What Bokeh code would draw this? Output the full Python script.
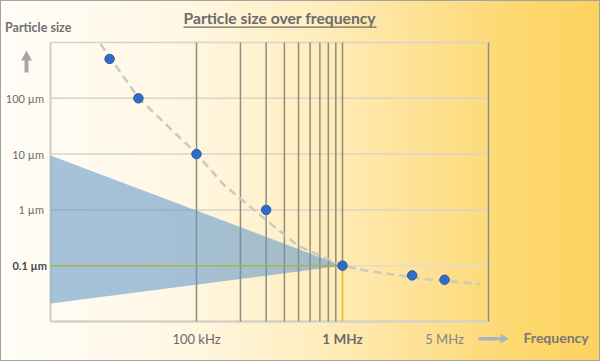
import math
from bokeh.plotting import figure
from bokeh.models import ColumnDataSource
from bokeh.core.properties import value
from bokeh.embed import file_html
from bokeh.resources import INLINE

# ---- data ----
point_freq = [25.4e3, 40e3, 100e3, 300e3, 1e6, 3e6, 5e6]
point_size = [507, 100, 10, 1, 0.1, 0.067, 0.056]

trend_freq = [22e3, 40e3, 100e3, 153e3, 274e3, 492e3, 1e6, 1.39e6, 2.38e6, 3.82e6, 8.8e6]
trend_size = [940, 102, 10.2, 2.85, 0.8, 0.23, 0.1, 0.083, 0.068, 0.057, 0.047]

band_freq = [1e4, 1e6, 1e4]
band_size = [9.4, 0.1, 0.021]

grid_freq = [1e5, 2e5, 3e5, 4e5, 5e5, 6e5, 7e5, 8e5, 9e5]
grid_size = [1, 10, 100, 1000]

freq_ticks = [1e5, 5e6]
freq_labels = ["100 kHz", "5 MHz"]
size_ticks = [1, 10, 100]
size_labels = ["1 µm", "10 µm", "100 µm"]

f_min, f_max = 1e4, 1e7
s_min, s_max = 0.01, 1000
knee_freq, knee_size = 1e6, 0.1
knee_freq_label = "1 MHz"
knee_size_label = "0.1 µm"

title_text = "Particle size over frequency"
y_title = "Particle size"
x_title = "Frequency"

# ---- layout (pixels of the 600x361 canvas) ----
W, H = 600, 361
PL, PR, PT, PB = 50, 488, 42, 321   # plot area box
lf0, lf1 = math.log10(f_min), math.log10(f_max)
ls0, ls1 = math.log10(s_min), math.log10(s_max)
kx = (lf1 - lf0) / (PR - PL)
ky = (ls1 - ls0) / (PB - PT)


def fx(px):
    return 10 ** (lf0 + (px - PL) * kx)


def sy(py):
    return 10 ** (ls1 - (py - PT) * ky)


FONT = "Lato"
GRAY = "#6b6b6b"

p = figure(width=W, height=H,
           x_axis_type="log", y_axis_type="log",
           x_range=(fx(0), fx(W)), y_range=(sy(H), sy(0)),
           x_axis_location=None, y_axis_location=None,
           output_backend="svg", toolbar_location=None,
           min_border=0, border_fill_alpha=0, background_fill_alpha=0,
           outline_line_color=None,
           styles={"background": "linear-gradient(to right, #fffdf7 0%, #fff7e4 30%, #ffeebf 52%, #fee195 70%, #fdd86f 86%, #fdd35f 100%)",
                   "box-shadow": "inset 0 0 0 1px #a3a3a3"})
p.xgrid.visible = False
p.ygrid.visible = False

# horizontal grid lines
hs = ColumnDataSource(dict(y=grid_size, x0=[f_min] * len(grid_size), x1=[f_max] * len(grid_size)))
p.segment(x0="x0", y0="y", x1="x1", y1="y", source=hs, line_color="#d8d4c6", line_width=1.5)
p.segment(x0=[knee_freq], y0=[knee_size], x1=[f_max], y1=[knee_size], line_color="#e2dccb", line_width=1.5)

# frame lines
p.segment(x0=[f_min], y0=[s_min], x1=[f_min], y1=[s_max], line_color="#d2cec2", line_width=2)
p.segment(x0=[f_min], y0=[s_min], x1=[f_max], y1=[s_min], line_color="#d6d2c6", line_width=2.5)
p.segment(x0=[f_max], y0=[s_min], x1=[f_max], y1=[s_max], line_color="#8f8c80", line_width=1.5)

# vertical lines
vs = ColumnDataSource(dict(x=grid_freq, y0=[s_min] * len(grid_freq), y1=[s_max] * len(grid_freq)))
p.segment(x0="x", y0="y0", x1="x", y1="y1", source=vs, line_color="#8f8c82", line_width=1.5)
p.segment(x0=[knee_freq], y0=[knee_size], x1=[knee_freq], y1=[s_max], line_color="#8f8c82", line_width=1.5)
p.segment(x0=[knee_freq], y0=[s_min], x1=[knee_freq], y1=[knee_size], line_color="#efc232", line_width=2)

# blue band
p.patch(band_freq, band_size, fill_color="#5b94c8", fill_alpha=0.55, line_color=None)

# green reference line
p.segment(x0=[f_min], y0=[knee_size], x1=[knee_freq], y1=[knee_size], line_color="#a7b24a", line_width=1.5)

# trend curve
p.line(trend_freq, trend_size, line_color="#cdc9bf", line_width=2.5, line_dash="8 5")

# points
p.scatter(point_freq, point_size, size=9.5, fill_color="#2f6cc6", line_color="#2a5ea8", line_width=1)

# ---- tick labels ----
y_mid_x = sy(338.5)
p.text(x=freq_ticks, y=[y_mid_x] * len(freq_ticks), text=freq_labels,
       text_font=value(FONT), text_font_size="13px", text_color=["#6b6b6b", "#858585"],
       text_align="center", text_baseline="middle")
p.text(x=[knee_freq], y=[y_mid_x], text=[knee_freq_label],
       text_font=value(FONT), text_font_size="13.5px", text_font_style="bold", text_color=GRAY,
       text_align="center", text_baseline="middle")
p.text(x=[fx(43.5)] * len(size_ticks), y=size_ticks, text=size_labels,
       text_font=value(FONT), text_font_size="11px", text_color=GRAY,
       text_align="right", text_baseline="middle")
p.text(x=[fx(46.5)], y=[knee_size], text=[knee_size_label],
       text_font=value(FONT), text_font_size="11px", text_font_style="bold", text_color="#474747",
       text_align="right", text_baseline="middle")

# ---- titles ----
p.text(x=[fx(183)], y=[sy(17.2)], text=[title_text],
       text_font=value(FONT), text_font_size="15.7px", text_font_style="bold", text_color=GRAY,
       text_align="left", text_baseline="middle")
p.segment(x0=[fx(183)], y0=[sy(26.6)], x1=[fx(376)], y1=[sy(26.6)], line_color=GRAY, line_width=1.3)
p.text(x=[fx(4.5)], y=[sy(26.5)], text=[y_title],
       text_font=value(FONT), text_font_size="12.5px", text_font_style="bold", text_color="#707070",
       text_align="left", text_baseline="middle")
p.text(x=[fx(523)], y=[sy(337)], text=[x_title],
       text_font=value(FONT), text_font_size="14px", text_font_style="bold", text_color="#777777",
       text_align="left", text_baseline="middle")

# ---- block arrows ----
up_x = [24, 24, 20.5, 26, 31.5, 28, 28]
up_y = [72, 60, 60, 50, 60, 60, 72]
p.patch([fx(v) for v in up_x], [sy(v) for v in up_y], fill_color="#a6a6a6", line_color=None)
rt_x = [478, 500, 500, 508.5, 500, 500, 478]
rt_y = [336.5, 336.5, 333.5, 338.3, 343, 340, 340]
p.patch([fx(v) for v in rt_x], [sy(v) for v in rt_y], fill_color="#a9b3c2", line_color=None)

open("out.html", "w").write(file_html(p, INLINE))
